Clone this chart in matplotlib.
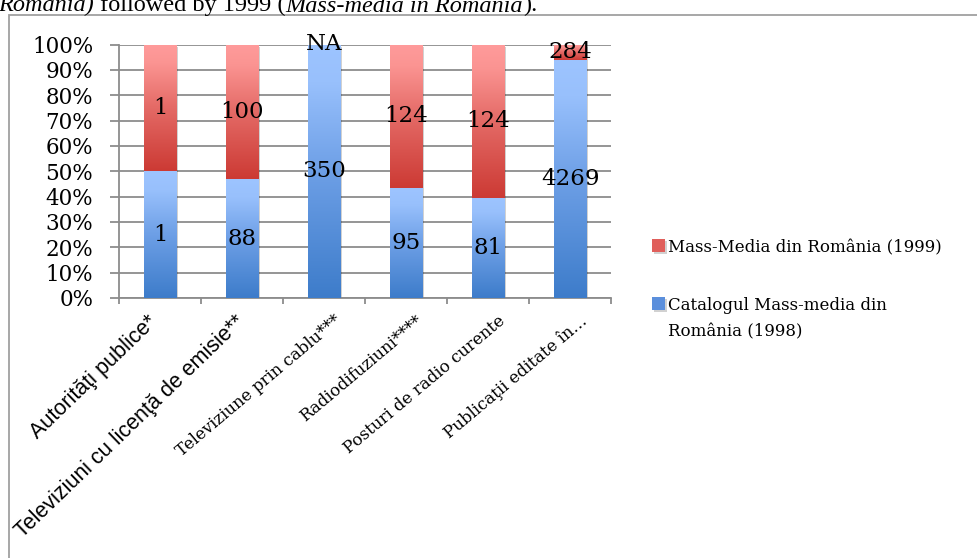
import numpy as np
import matplotlib.pyplot as plt
from matplotlib import patheffects as pe
from matplotlib.patches import Rectangle
from matplotlib.colors import LinearSegmentedColormap
from matplotlib.transforms import ScaledTranslation

######## Datele graficului

categorii = ["Autorităţi publice*", "Televiziuni cu licenţă de emisie**",
             "Televiziune prin cablu***", "Radiodifuziuni****",
             "Posturi de radio curente", "Publicaţii editate în…"]
fonturi_categorii = ["Liberation Sans", "Liberation Sans", "DejaVu Serif",
                     "DejaVu Serif", "DejaVu Serif", "DejaVu Serif"]
marimi_categorii = [15.5, 15.5, 12, 12, 12, 12]
unghiuri_categorii = [44, 44, 40, 40, 40, 40]
deplasari_px = [-6, 0, 15, 15, 15, 15]
val_1998 = [1, 88, 350, 95, 81, 4269]
val_1999 = [1, 100, np.nan, 124, 124, 284]   # NA pentru cablu
etich_1998 = ["1", "88", "350", "95", "81", "4269"]
etich_1999 = ["1", "100", "NA", "124", "124", "284"]
serii = ["Mass-Media din România (1999)", "Catalogul Mass-media din\nRomânia (1998)"]
procente = [f"{p}%" for p in range(0, 101, 10)]

######## Procente (100% stivuit)

v98 = np.array(val_1998, dtype=float)
v99 = np.nan_to_num(np.array(val_1999, dtype=float))
total = v98 + v99
p98 = v98 / total * 100
p99 = v99 / total * 100

gri = "#8c8c8c"
albastru = LinearSegmentedColormap.from_list("alb", [(0, "#3d7cca"), (0.5, "#6d9fe6"), (0.85, "#98c0fc"), (1, "#9dc4ff")])
rosu = LinearSegmentedColormap.from_list("ros", [(0, "#cc3a34"), (0.5, "#e46a66"), (0.85, "#fb9492"), (1, "#ff9b9b")])

fig = plt.figure(figsize=(9.77, 5.58), dpi=100)
ax = fig.add_axes([119/977, 1 - 298/558, (611 - 119)/977, (298 - 44.5)/558])

x = np.arange(len(categorii))
umbra = [pe.SimplePatchShadow(offset=(1.5, -1.5), shadow_rgbFace="#000000", alpha=0.18), pe.Normal()]
bare98 = ax.bar(x, p98, width=0.4, color="#5b8fdc", zorder=2, path_effects=umbra)
bare99 = ax.bar(x, p99, width=0.4, bottom=p98, color="#e05f5b", zorder=2, path_effects=umbra)

######## Gradient pe fiecare segment

grad = np.linspace(0, 1, 256).reshape(-1, 1)
for bare, cmap in [(bare98, albastru), (bare99, rosu)]:
    for b in bare:
        if b.get_height() <= 0:
            continue
        ax.imshow(grad, cmap=cmap, origin="lower", aspect="auto", zorder=3,
                  extent=[b.get_x(), b.get_x() + b.get_width(), b.get_y(), b.get_y() + b.get_height()])

######## Etichete de date

for i in range(len(categorii)):
    ax.text(x[i], p98[i] / 2, etich_1998[i], ha="center", va="center",
            fontsize=16.5, family="DejaVu Serif", zorder=5)
    ax.text(x[i], p98[i] + p99[i] / 2, etich_1999[i], ha="center", va="center",
            fontsize=16.5, family="DejaVu Serif", zorder=5)

ax.set_xlim(-0.5, len(categorii) - 0.5)
ax.set_ylim(0, 100)
ax.set_yticks(range(0, 101, 10))
ax.set_yticklabels(procente, family="DejaVu Serif", fontsize=15.5)
ax.set_xticks(x)
ax.set_xticklabels(categorii, ha="right", va="center", rotation_mode="anchor")
ax.set_xticks(np.arange(-0.5, len(categorii), 1), minor=True)
ax.tick_params(axis="x", which="major", length=0, pad=15)
ax.tick_params(axis="x", which="minor", length=4, width=1.3, color=gri)
ax.tick_params(axis="y", length=6.5, width=1.3, color=gri, pad=12)
for lab, f, m, u, d in zip(ax.get_xticklabels(), fonturi_categorii, marimi_categorii,
                           unghiuri_categorii, deplasari_px):
    lab.set_family(f)
    lab.set_fontsize(m)
    lab.set_rotation(u)
    lab.set_transform(lab.get_transform() + ScaledTranslation(d / 100, 0, fig.dpi_scale_trans))

ax.yaxis.grid(True, color=gri, lw=1.3)
ax.set_axisbelow(True)
for s in ["top", "right"]:
    ax.spines[s].set_visible(False)
for s in ["left", "bottom"]:
    ax.spines[s].set_color(gri)
    ax.spines[s].set_linewidth(1.3)

######## Legenda

leg = fig.legend([bare99[0], bare98[0]], serii, loc="upper left", bbox_to_anchor=(652/977, 1 - 239/558),
                 frameon=False, prop={"family": "DejaVu Serif", "size": 12},
                 handlelength=0.8, handleheight=0.8, handletextpad=0.15,
                 labelspacing=2.45, borderpad=0, borderaxespad=0)
for txt_leg in leg.get_texts():
    txt_leg.set_linespacing(1.75)
# marcajul aliniat cu primul rand al textului
for col in leg._legend_handle_box.get_children():
    for rand in col.get_children():
        rand.align = "top"

######## Chenar si textul taiat de sus

fig.add_artist(Rectangle((9/977, -0.1), 1.2, 1.1 - 15.5/558, transform=fig.transFigure,
                         fill=False, edgecolor="#a0a0a0", lw=1.3))

bucati = [("Romania)", "italic"), (" followed by 1999 (", "normal"),
          ("Mass-media in Romania", "italic"), (").", "normal")]
renderer = fig.canvas.get_renderer()
xpos = -2.0
for txt, st in bucati:
    tb = fig.text(xpos / 977, 1 - 11.5/558, txt, family="Liberation Serif", style=st,
                  fontsize=17.5, va="baseline", ha="left")
    xpos += tb.get_window_extent(renderer).width

fig.savefig("out.png", dpi=100)
